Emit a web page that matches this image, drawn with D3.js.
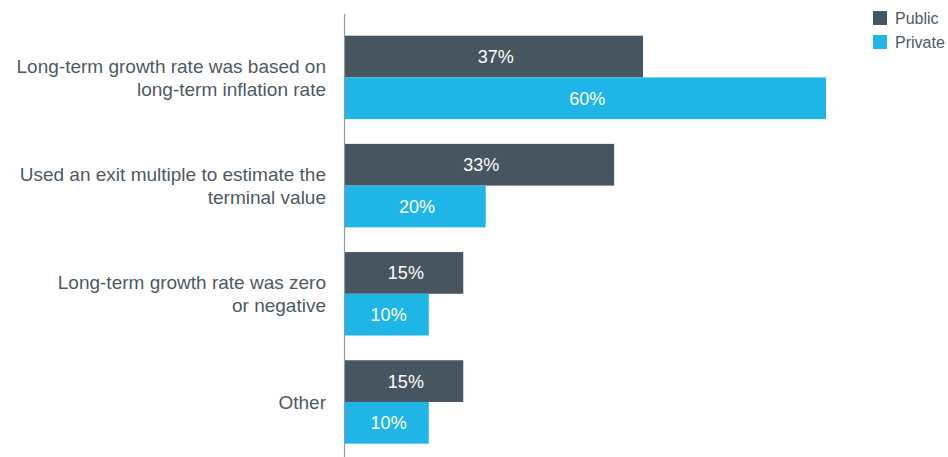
<!DOCTYPE html>
<html>
<head>
<meta charset="utf-8">
<script src="https://cdn.jsdelivr.net/npm/d3@7"></script>
<style>
  body { margin: 0; background: #fff; }
  svg { display: block; font-family: "Liberation Sans", Arial, sans-serif; }
</style>
</head>
<body>
<svg id="chart" width="948" height="457"></svg>
<script>
// data
const categories = [
  ['Long-term growth rate was based on', 'long-term inflation rate'],
  ['Used an exit multiple to estimate the', 'terminal value'],
  ['Long-term growth rate was zero', 'or negative'],
  ['Other']
];
const series = ['Public', 'Private'];
const publicValues = [37.2, 33.6, 14.8, 14.8];
const privateValues = [60, 17.6, 10.5, 10.5];
const publicLabels = ['37%', '33%', '15%', '15%'];
const privateLabels = ['60%', '20%', '10%', '10%'];

const colors = ['#46555f', '#20b5e7'];
const textColor = '#4d5a64';

const svg = d3.select('#chart');
const width = 948, height = 457;
const axisX = 344.5;

const rows = categories.map((c, i) => ({
  name: c,
  values: [
    {key: series[0], value: publicValues[i], label: publicLabels[i]},
    {key: series[1], value: privateValues[i], label: privateLabels[i]}
  ]
}));

const x = d3.scaleLinear()
  .domain([0, 60])
  .range([axisX, 826]);

const y0 = d3.scaleBand()
  .domain(d3.range(rows.length))
  .range([35.7, 443.7])
  .paddingInner(0.2285)
  .paddingOuter(0);

const y1 = d3.scaleBand()
  .domain(series)
  .range([0, y0.bandwidth()]);

const color = d3.scaleOrdinal().domain(series).range(colors);

const group = svg.selectAll('.group')
  .data(rows)
  .enter().append('g')
  .attr('class', 'group')
  .attr('transform', (d, i) => `translate(0, ${y0(i)})`);

group.selectAll('rect')
  .data(d => d.values)
  .enter().append('rect')
  .attr('x', x(0))
  .attr('y', d => y1(d.key))
  .attr('width', d => x(d.value) - x(0))
  .attr('height', y1.bandwidth())
  .attr('fill', d => color(d.key));

group.selectAll('.val')
  .data(d => d.values)
  .enter().append('text')
  .attr('class', 'val')
  .attr('x', d => (x(d.value) + x(0)) / 2 + 2)
  .attr('y', d => y1(d.key) + y1.bandwidth() / 2)
  .attr('dy', '0.36em')
  .attr('text-anchor', 'middle')
  .attr('fill', '#fff')
  .style('font-size', '18px')
  .text(d => d.label);

// category labels
const lineH = 23;
group.append('text')
  .attr('text-anchor', 'end')
  .attr('fill', textColor)
  .style('font-size', '19px')
  .each(function(d) {
    const t = d3.select(this);
    const n = d.name.length;
    d.name.forEach((line, k) => {
      t.append('tspan')
        .attr('x', 326)
        .attr('y', y0.bandwidth() / 2 + (k - (n - 1) / 2) * lineH)
        .attr('dy', '0.36em')
        .text(line);
    });
  });

// axis line
svg.append('line')
  .attr('x1', axisX).attr('x2', axisX)
  .attr('y1', 14).attr('y2', height)
  .attr('stroke', '#8d98a1')
  .attr('stroke-width', 1.2);

// legend
const legend = svg.append('g')
  .attr('transform', 'translate(873, 11)');

const item = legend.selectAll('.item')
  .data(series)
  .enter().append('g')
  .attr('class', 'item')
  .attr('transform', (d, i) => `translate(0, ${i * 24})`);

item.append('rect')
  .attr('width', 14)
  .attr('height', 14)
  .attr('fill', d => color(d));

item.append('text')
  .attr('x', 22)
  .attr('y', 7)
  .attr('dy', '0.36em')
  .attr('fill', textColor)
  .style('font-size', '16px')
  .text(d => d);
</script>
</body>
</html>
